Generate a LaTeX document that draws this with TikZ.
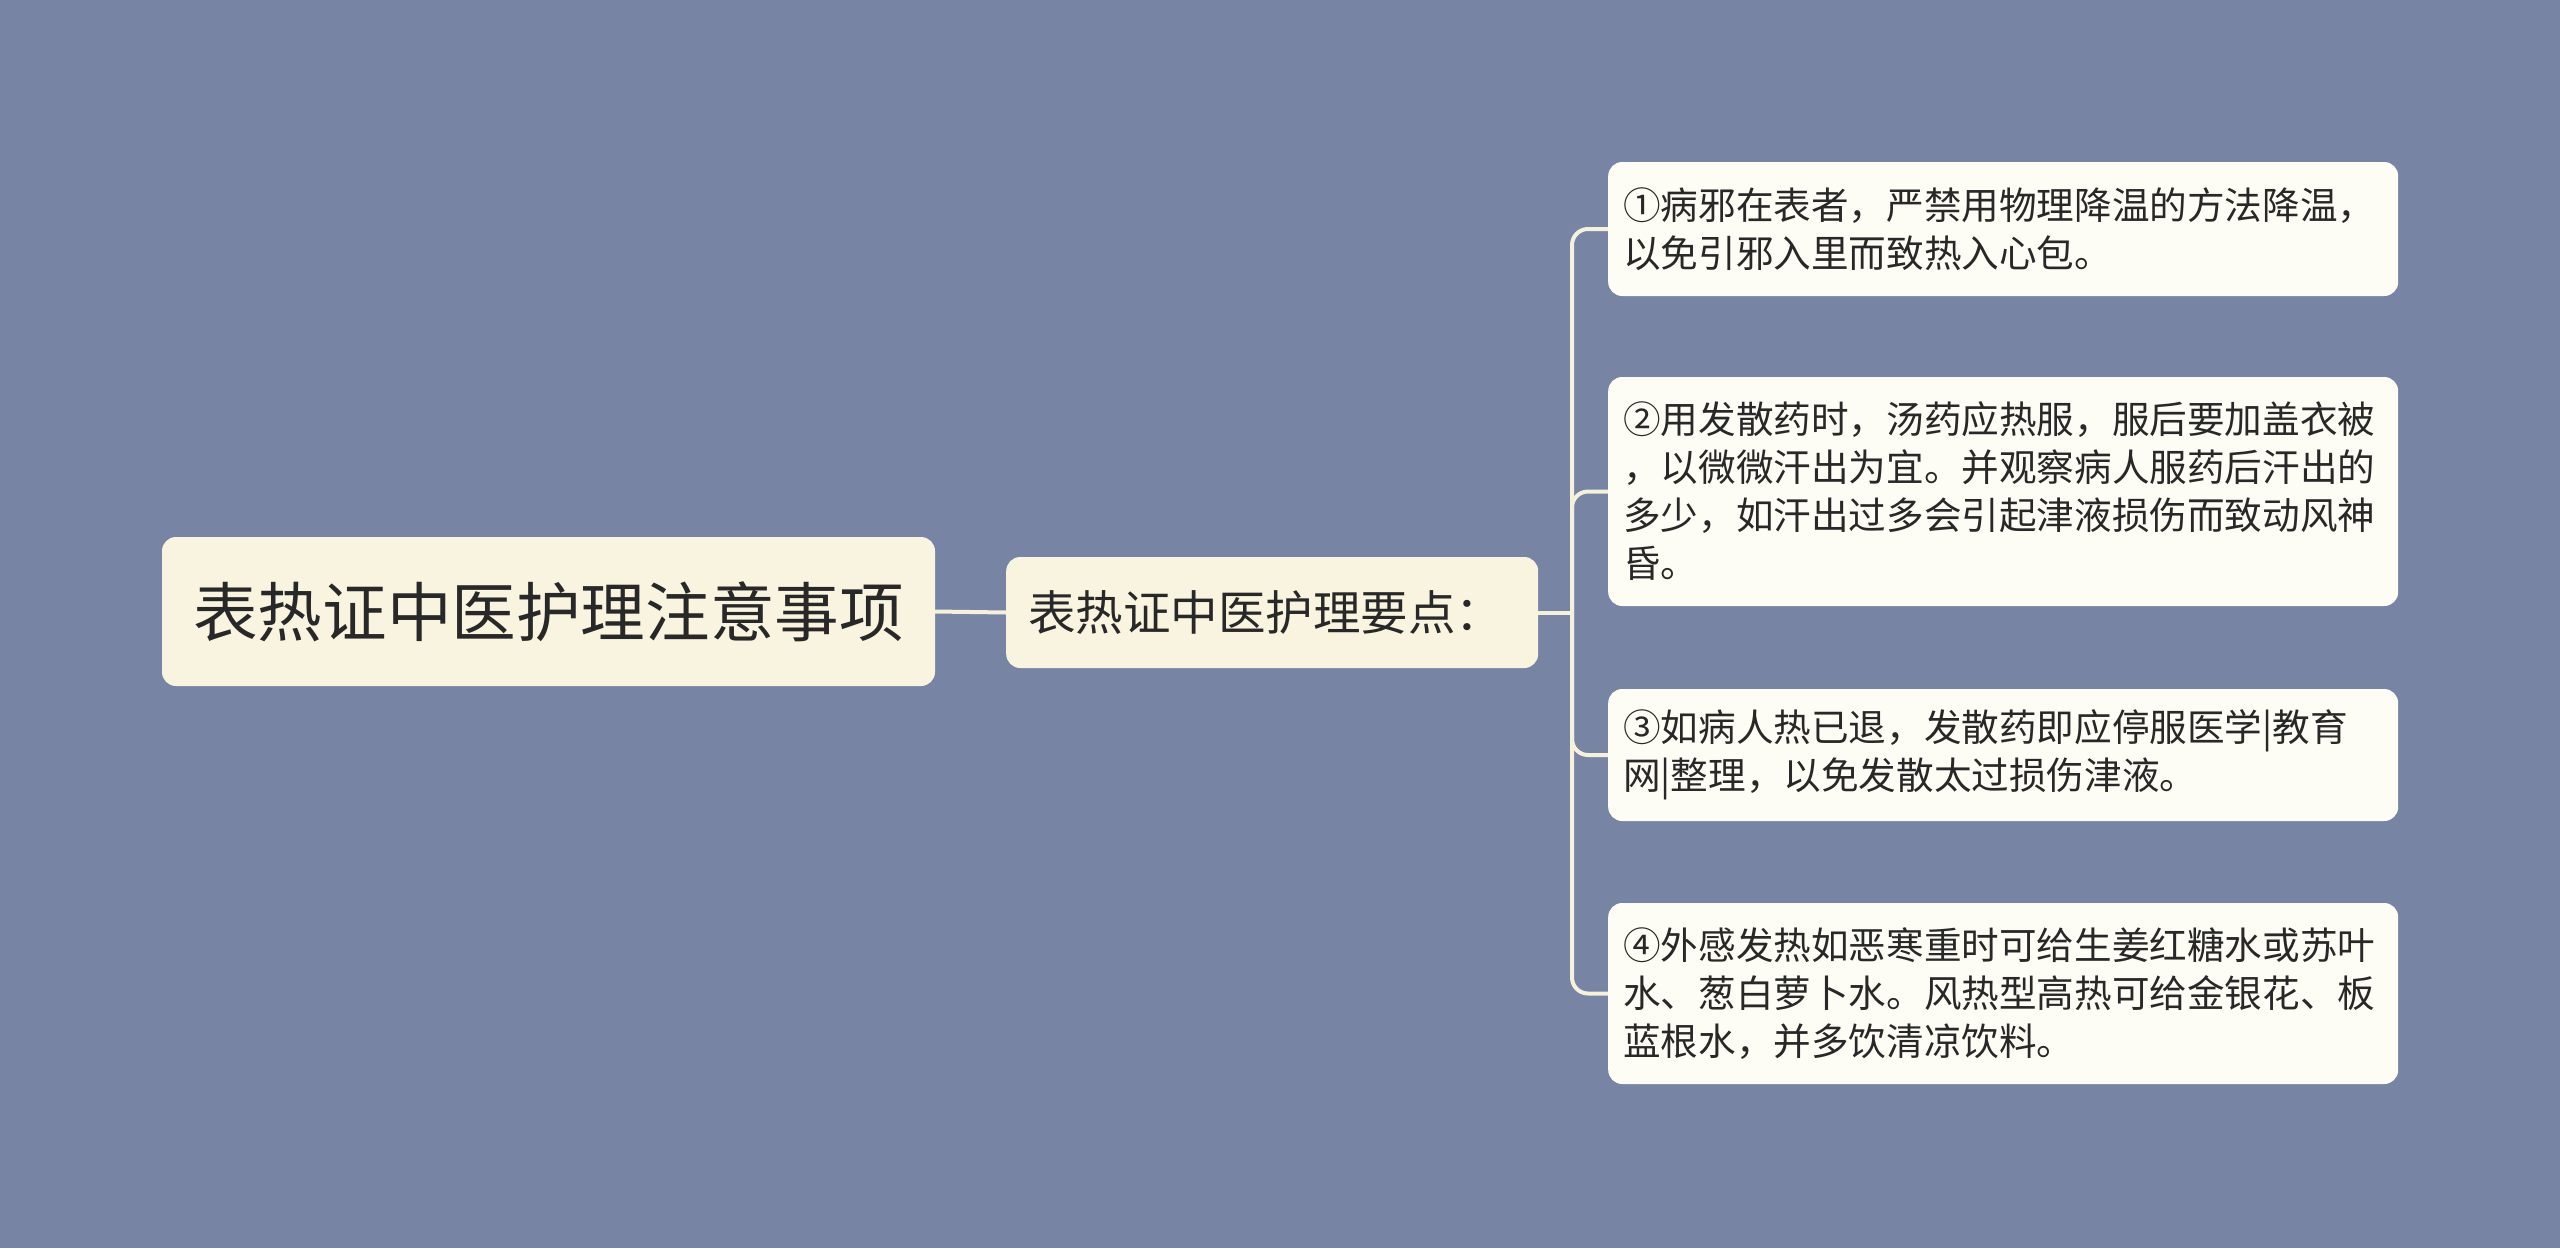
\documentclass[tikz,border=0pt]{standalone}
\usepackage{fontspec}
\setmainfont{Noto Sans CJK SC}
\definecolor{bgc}{RGB}{119,132,163}
\definecolor{rootc}{RGB}{248,244,224}
\definecolor{leafc}{RGB}{253,253,245}
\definecolor{linec}{RGB}{245,241,220}
\definecolor{txtc}{RGB}{40,40,40}
\begin{document}
\begin{tikzpicture}[x=1pt,y=-1pt,
  box/.style={rounded corners=14pt, inner sep=0pt, text=txtc},
  rootbox/.style={box, fill=rootc, minimum width=773pt, minimum height=149pt, font=\fontsize{64.6}{78}\selectfont},
  midbox/.style={box, fill=rootc, anchor=west, text width=488pt, inner xsep=22pt, align=left, minimum height=111pt, font=\fontsize{47.5}{56}\selectfont},
  leafbox/.style={box, fill=leafc, anchor=west, text width=760pt, inner xsep=15pt, align=left, font=\fontsize{37.6}{48}\selectfont},
  conn/.style={draw=linec, line width=4pt},
]
\useasboundingbox (0,0) rectangle (2560,1248);
\fill[bgc] (0,0) rectangle (2560,1248);

\node[rootbox] (root) at (548.5,611.5) {表热证中医护理注意事项};
\node[midbox] (mid) at (1006,612.5) {表热证中医护理要点：};

\node[leafbox, minimum height=134pt] (l1) at (1608,229) {①病邪在表者，严禁用物理降温的方法降温，\\以免引邪入里而致热入心包。};
\node[leafbox, minimum height=229pt] (l2) at (1608,491.5) {②用发散药时，汤药应热服，服后要加盖衣被\\，以微微汗出为宜。并观察病人服药后汗出的\\多少，如汗出过多会引起津液损伤而致动风神\\昏。};
\node[leafbox, minimum height=132pt] (l3) at (1608,755) {③如病人热已退，发散药即应停服医学|教育\\网|整理，以免发散太过损伤津液。};
\node[leafbox, minimum height=181pt] (l4) at (1608,993.5) {④外感发热如恶寒重时可给生姜红糖水或苏叶\\水、葱白萝卜水。风热型高热可给金银花、板\\蓝根水，并多饮清凉饮料。};

\coordinate (trunk) at (1572,612.5);

\draw[conn] (root.east) -- (mid.west);
\draw[conn] (mid.east) -- (trunk);
\foreach \l in {l1,l2,l3,l4}
  \draw[conn, rounded corners=16pt] (trunk) |- (\l.west);
\end{tikzpicture}
\end{document}
